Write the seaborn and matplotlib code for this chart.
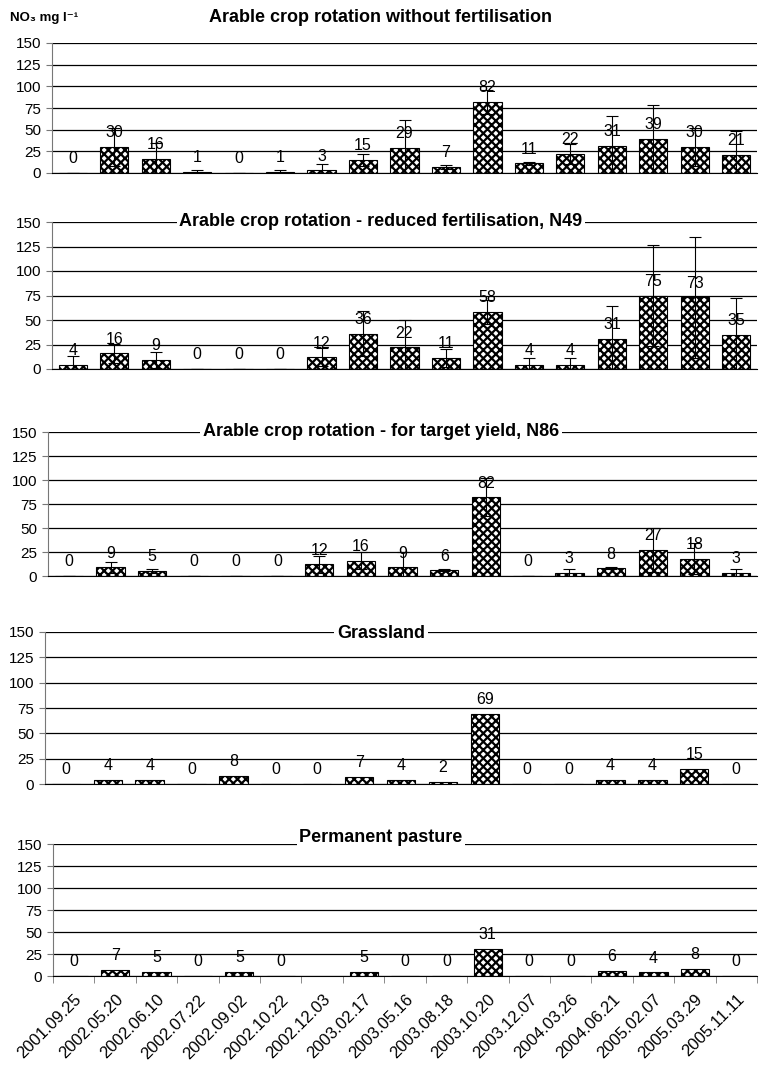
import numpy as np
import pandas as pd
import matplotlib
matplotlib.use("Agg")
import matplotlib.pyplot as plt
import seaborn as sns

fechas = ['2001.09.25', '2002.05.20', '2002.06.10', '2002.07.22', '2002.09.02',
          '2002.10.22', '2002.12.03', '2003.02.17', '2003.05.16', '2003.08.18',
          '2003.10.20', '2003.12.07', '2004.03.26', '2004.06.21', '2005.02.07',
          '2005.03.29', '2005.11.11']

titulos = ['Arable crop rotation without fertilisation',
           'Arable crop rotation - reduced fertilisation, N49',
           'Arable crop rotation - for target yield, N86',
           'Grassland',
           'Permanent pasture']

sin_fert = [0, 30, 16, 1, 0, 1, 3, 15, 29, 7, 82, 11, 22, 31, 39, 30, 21]
sin_fert_err = [0, 22, 19, 3, 0, 3, 7, 7, 32, 2, 14, 2, 12, 35, 39, 22, 27]

red_fert = [4, 16, 9, 0, 0, 0, 12, 36, 22, 11, 58, 4, 4, 31, 75, 73, 35]
red_fert_err = [9, 10, 8, 0, 0, 0, 9, 23, 28, 9, 12, 7, 7, 33, 52, 62, 37]

obj_fert = [0, 9, 5, 0, 0, 0, 12, 16, 9, 6, 82, 0, 3, 8, 27, 18, 3]
obj_fert_err = [0, 6, 2, 0, 0, 0, 9, 9, 16, 1, 20, 0, 4, 1, 23, 16, 4]

pradera = [0, 4, 4, 0, 8, 0, 0, 7, 4, 2, 69, 0, 0, 4, 4, 15, 0]
pasto = [0, 7, 5, 0, 5, 0, np.nan, 5, 0, 0, 31, 0, 0, 6, 4, 8, 0]

series = [(sin_fert, sin_fert_err), (red_fert, red_fert_err), (obj_fert, obj_fert_err),
          (pradera, None), (pasto, None)]

sns.set_style("white")
plt.rcParams['font.family'] = ['Liberation Sans', 'DejaVu Sans']
plt.rcParams['text.color'] = 'black'
plt.rcParams['xtick.color'] = 'black'
plt.rcParams['ytick.color'] = 'black'
plt.rcParams['hatch.color'] = 'black'
plt.rcParams['hatch.linewidth'] = 1.6

W, H = 760, 1066
# (izquierda, arriba, abajo) en pixeles de cada panel
cajas = [(52, 43, 173), (52, 222, 369), (48, 432, 576), (45, 632, 784), (53, 844, 976)]
derecha = 757

fig = plt.figure(figsize=(W / 100, H / 100), dpi=100)

for k, ((vals, errs), (x0, y0, y1)) in enumerate(zip(series, cajas)):
    ax = fig.add_axes([x0 / W, 1 - y1 / H, (derecha - x0) / W, (y1 - y0) / H])
    df = pd.DataFrame({'fecha': fechas, 'valor': vals})
    sns.barplot(data=df, x='fecha', y='valor', order=fechas, ax=ax, color='white',
                edgecolor='black', linewidth=0.8, width=0.68, hatch='xxxx',
                errorbar=None, zorder=2)
    if errs is not None:
        ax.errorbar(range(len(fechas)), vals, yerr=errs, fmt='none', ecolor='black',
                    elinewidth=0.8, capsize=4, capthick=0.8, zorder=3)
    for i, v in enumerate(vals):
        if np.isnan(v):
            continue
        ax.annotate(f'{int(v)}', (i, v), xytext=(0, 7), textcoords='offset points',
                    ha='center', va='baseline', fontsize=11.5, zorder=4)

    ax.set_ylim(0, 150)
    ax.set_yticks(range(0, 151, 25))
    ax.set_xlim(-0.5, len(fechas) - 0.5)
    ax.yaxis.grid(True, color='black', linewidth=0.9)
    ax.set_axisbelow(True)
    for s in ['top', 'right']:
        ax.spines[s].set_visible(False)
    ax.spines['left'].set_color('#777777')
    ax.spines['bottom'].set_color('black')
    ax.tick_params(axis='y', left=True, length=4, color='#777777', labelsize=11, pad=4)
    ax.set_xlabel('')
    ax.set_ylabel('')

    if k < 4:
        ax.tick_params(axis='x', bottom=False, labelbottom=False)
    else:
        ax.set_xticks(np.arange(-0.5, len(fechas), 1.0), minor=True)
        ax.tick_params(axis='x', which='minor', bottom=True, length=5, color='#777777')
        ax.tick_params(axis='x', which='major', bottom=False, pad=8)
        plt.setp(ax.get_xticklabels(), rotation=45, ha='right', rotation_mode='anchor',
                 fontsize=12)

    if k == 0:
        fig.text(381 / W, 1 - 18 / H, titulos[k], ha='center', va='center',
                 fontsize=13, fontweight='bold')
    else:
        ty = [0, 222, 432, 634, 838][k]
        fig.text(381 / W, 1 - ty / H, titulos[k], ha='center', va='center',
                 fontsize=13, fontweight='bold',
                 bbox=dict(facecolor='white', edgecolor='none', pad=2))

fig.text(10 / W, 1 - 18 / H, 'NO\u2083 mg l\u207b\u00b9', ha='left', va='center',
         fontsize=9.5, fontweight='bold')

plt.savefig('out.png', dpi=100)
